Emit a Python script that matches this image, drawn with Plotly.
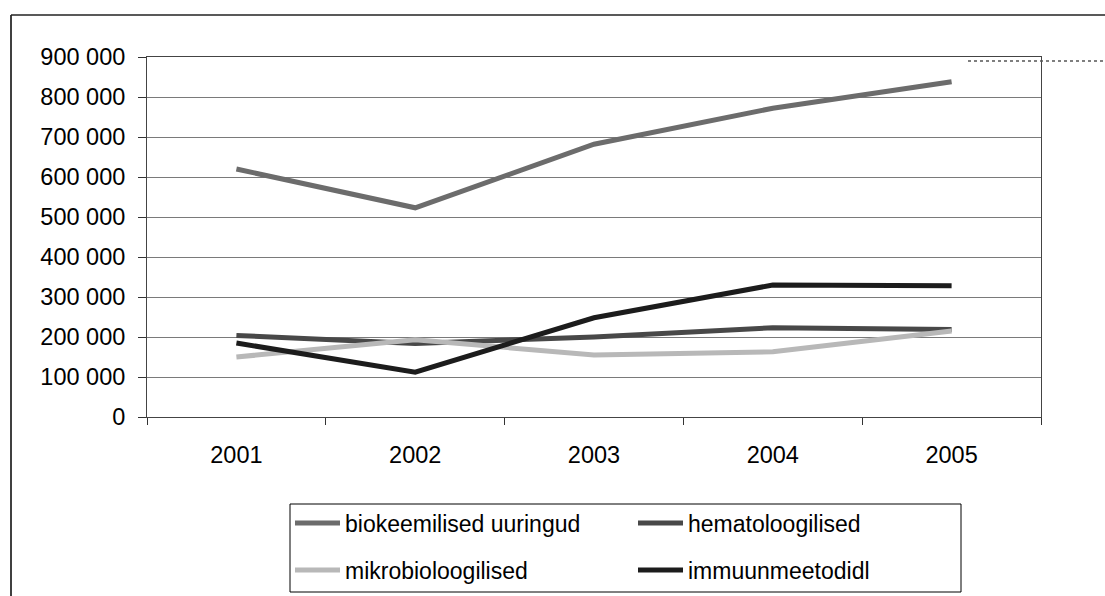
import plotly.graph_objects as go

years = ["2001", "2002", "2003", "2004", "2005"]
bio = [620000, 523000, 682000, 772000, 838000]
hema = [204000, 184000, 200000, 223000, 219000]
mikro = [150000, 193000, 155000, 163000, 215000]
immuun = [185000, 112000, 248000, 330000, 328000]

names = ["biokeemilised uuringud", "hematoloogilised", "mikrobioloogilised", "immuunmeetodidl"]
colors = ["#6c6c6c", "#484848", "#b8b8b8", "#1c1c1c"]
legend_ids = ["legend", "legend", "legend2", "legend2"]

# figure a bit taller than the 596px window so the legends never push the
# bottom margin; page overflow is hidden so no scrollbars take space
W, H = 1105, 616
L, R, T, B = 147, 1041, 57, 417
FONT = "Liberation Sans, Arial, sans-serif"


def px(x):
    return (x - L) / (R - L)


def py(y):
    return (B - y) / (B - T)


fig = go.Figure()
for name, vals, col, lg in zip(names, [bio, hema, mikro, immuun], colors, legend_ids):
    fig.add_trace(go.Scatter(x=years, y=vals, mode="lines", name=name,
                             line=dict(color=col, width=5), legend=lg))

common_leg = dict(orientation="h", xanchor="left", yanchor="middle",
                  bgcolor="rgba(0,0,0,0)", borderwidth=0, itemwidth=45,
                  entrywidth=283, entrywidthmode="pixels",
                  font=dict(family=FONT, size=23, color="black"))

fig.update_layout(
    width=W, height=H,
    margin=dict(l=L, r=W - R, t=T, b=H - B, pad=0),
    plot_bgcolor="white", paper_bgcolor="white",
    font=dict(family=FONT, size=23.5, color="black"),
    separators=". ",
    showlegend=True,
    legend=dict(x=px(290), y=py(523), **common_leg),
    legend2=dict(x=px(290), y=py(570), **common_leg),
    xaxis=dict(type="category", tickson="boundaries", ticks="outside", ticklen=7,
               tickcolor="#333", showline=True, linecolor="#444", linewidth=1,
               mirror=True, showgrid=False, range=[-0.5, 4.5], ticklabelstandoff=17),
    yaxis=dict(range=[0, 900000], dtick=100000, tickformat=",d", ticks="outside",
               ticklen=8, tickcolor="#333", showline=True, linecolor="#444",
               linewidth=1, mirror=True, showgrid=True, gridcolor="#7a7a7a",
               gridwidth=1, zeroline=False, ticklabelstandoff=8),
    shapes=[
        dict(type="rect", xref="paper", yref="paper", x0=px(290), x1=px(961),
             y0=py(504), y1=py(592), line=dict(color="black", width=1)),
        dict(type="line", xref="paper", yref="paper", x0=px(11), x1=px(11),
             y0=py(15), y1=py(H), line=dict(color="black", width=1.5)),
        dict(type="line", xref="paper", yref="paper", x0=px(11), x1=px(1105),
             y0=py(15), y1=py(15), line=dict(color="#222", width=1.5)),
        dict(type="line", xref="paper", yref="paper", x0=px(968), x1=px(1105),
             y0=py(61), y1=py(61), line=dict(color="#555", width=1.5, dash="dot")),
    ],
)

fig.write_html("out.html", config={"displayModeBar": False},
               post_script=("document.documentElement.style.overflow='hidden';"
                            "document.body.style.overflow='hidden';"
                            "document.body.style.margin='0';"))
